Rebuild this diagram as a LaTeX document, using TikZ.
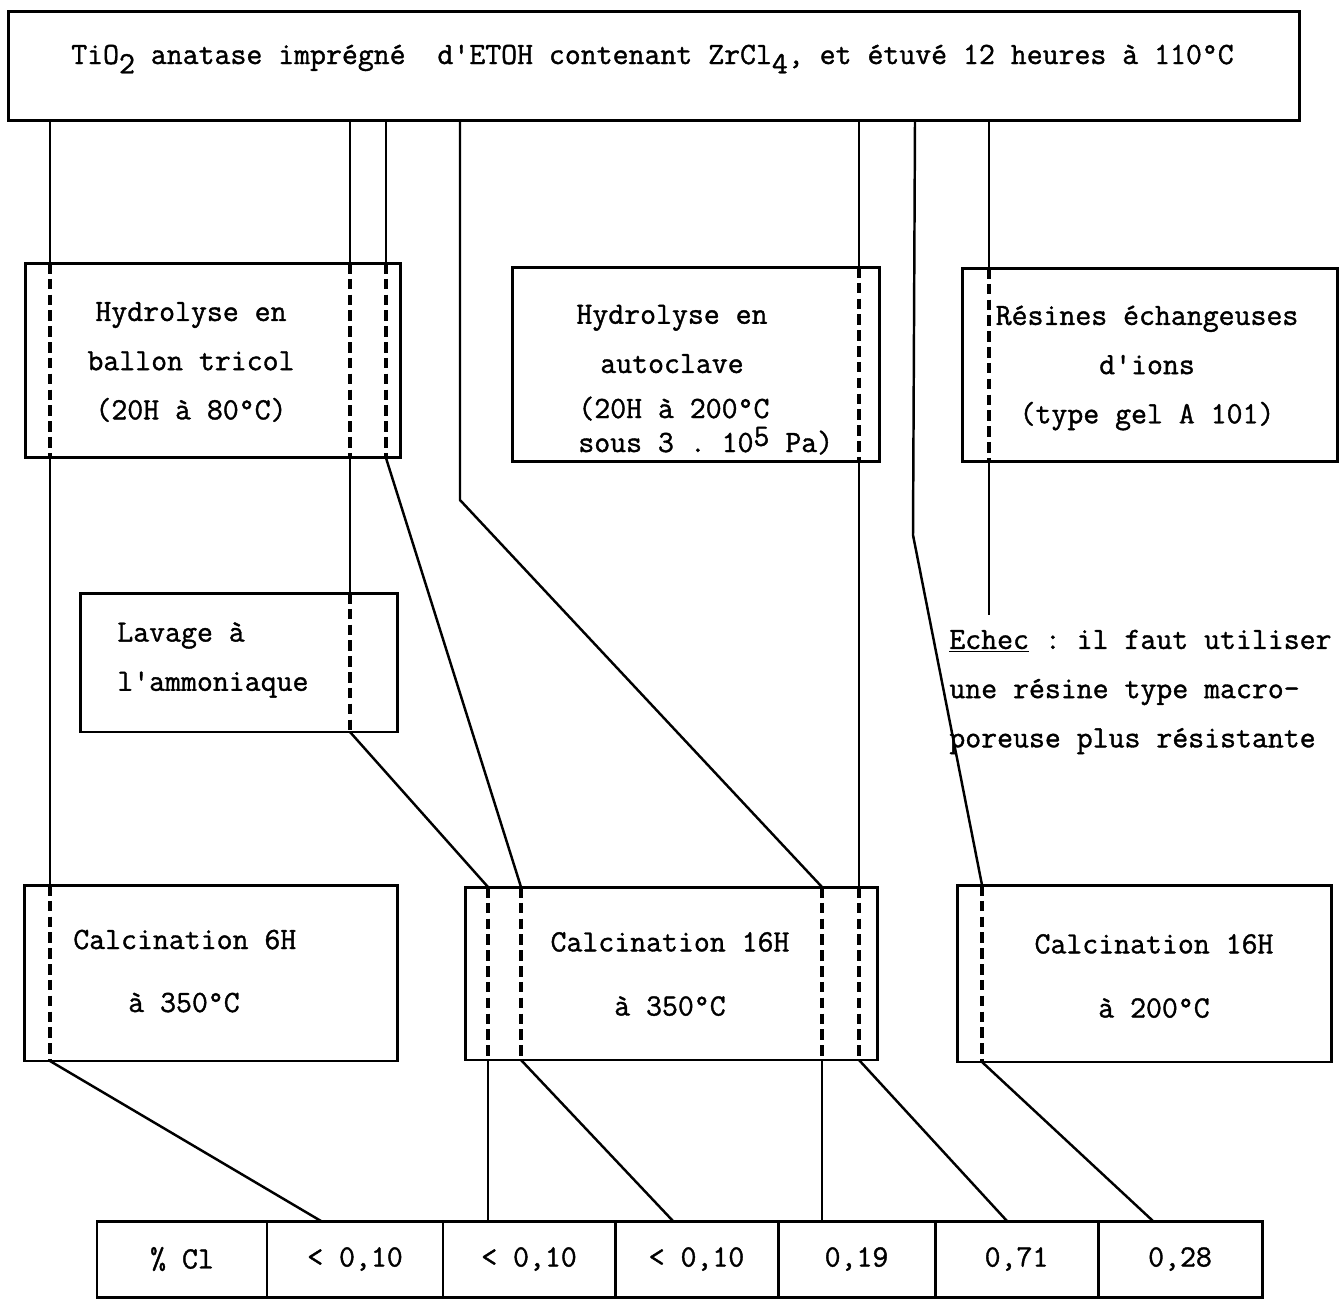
\documentclass[tikz,border=0pt]{standalone}
\usepackage{fontspec}
\setmonofont{Latin Modern Mono}[FakeBold=1.2]
\begin{document}
\begin{tikzpicture}[x=0.02cm, y=-0.02cm,
    box/.style={draw, line width=1.7pt, inner sep=0pt, outer sep=0pt},
    txt/.style={font=\ttfamily\fontsize{17.6}{28}\selectfont, inner sep=0pt, align=center},
    wire/.style={line width=1.4pt},
    hidden/.style={line width=1.8pt, dash pattern=on 6pt off 3pt}]
    \useasboundingbox (0,0) rectangle (1342,1299);

    % Starting material
    \node[box, minimum width=25.84cm, minimum height=2.18cm] (top) at (654,66) {};
    \node[txt, anchor=base] at (652.5,64) {TiO\raisebox{-0.3em}{2} anatase imprégné\ \ d'ETOH contenant ZrCl\raisebox{-0.3em}{4}, et étuvé 12 heures à 110°C};

    % Hydrolysis and exchange steps
    \node[box, minimum width=7.52cm, minimum height=3.9cm] (hyd) at (213,360.5) {};
    \node[txt] at (191,362) {Hydrolyse en\\ballon tricol\\(20H à 80°C)};

    \node[box, minimum width=7.36cm, minimum height=3.9cm] (auto) at (696,364.5) {};
    \node[txt] at (672,339) {Hydrolyse en\\autoclave};
    \node[txt, anchor=base west] at (578,418) {(20H à 200°C};
    \node[txt, anchor=base west] at (578,452) {sous 3 . 10\raisebox{0.2em}{5} Pa)};

    \node[box, minimum width=7.52cm, minimum height=3.88cm] (resin) at (1150,365) {};
    \node[txt] at (1147,368) {Résines échangeuses\\d'ions\\(type gel A 101)};

    % Washing
    \node[box, minimum width=6.36cm, minimum height=2.78cm] (lav) at (239,662.5) {};
    \node[txt, align=left, anchor=west] at (117,660) {Lavage à\\l'ammoniaque};

    \node[txt, align=left, anchor=west] (echec) at (949,692) {\underline{Echec} : il faut utiliser\\une résine type macro-\\poreuse plus résistante};

    % Calcination steps
    \node[box, minimum width=7.48cm, minimum height=3.52cm] (c6) at (211,973) {};
    \node[txt, anchor=base west] at (73,949) {Calcination 6H};
    \node[txt, anchor=base] at (184,1012) {à 350°C};

    \node[box, minimum width=8.26cm, minimum height=3.46cm] (c16) at (671.5,973.5) {};
    \node[txt] at (670,974) {Calcination 16H\\[8.5pt]à 350°C};

    \node[box, minimum width=7.5cm, minimum height=3.54cm] (c200) at (1144.5,973.5) {};
    \node[txt] at (1154,976) {Calcination 16H\\[8.5pt]à 200°C};

    % Chlorine table
    \foreach \i/\xa/\xb/\val in {1/97/267/{\% Cl}, 2/267/443/{< 0,10}, 3/443/615/{< 0,10}, 4/615/778/{< 0,10}, 5/778/935/{0,19}, 6/935/1098/{0,71}, 7/1098/1262/{0,28}} {
        \node[box, txt, minimum width={(\xb-\xa)*0.02cm}, minimum height=1.52cm] (t\i) at ({(\xa+\xb)/2},1259) {\val};
    }

    % Lanes
    \coordinate (l1) at (50,0);
    \coordinate (l2) at (350,0);
    \coordinate (l3) at (386,0);
    \coordinate (l4) at (460,0);
    \coordinate (l5) at (859,0);
    \coordinate (l6) at (915,0);
    \coordinate (l7) at (989,0);
    \coordinate (m1) at (488,0);
    \coordinate (m2) at (521,0);
    \coordinate (m3) at (822,0);
    \coordinate (m5) at (982,0);
    \coordinate (e1) at (321,0);
    \coordinate (e2) at (673,0);
    \coordinate (e3) at (1007,0);
    \coordinate (e4) at (1153,0);
    \coordinate (b4) at (460,500);
    \coordinate (b6) at (913,535);
    \coordinate (f7) at (989,615);

    % Hidden parts inside boxes
    \foreach \b/\l in {hyd/l1, hyd/l2, hyd/l3, lav/l2, c6/l1, auto/l5, resin/l7, c16/m1, c16/m2, c16/m3, c16/l5, c200/m5}
        \draw[hidden] (\b.north -| \l) -- (\b.south -| \l);

    % Lane 1
    \draw[wire] (top.south -| l1) -- (hyd.north -| l1);
    \draw[wire] (hyd.south -| l1) -- (c6.north -| l1);
    \draw[wire] (c6.south -| l1) -- (t2.north -| e1);
    % Lane 2
    \draw[wire] (top.south -| l2) -- (hyd.north -| l2);
    \draw[wire] (hyd.south -| l2) -- (lav.north -| l2);
    \draw[wire] (lav.south -| l2) -- (c16.north -| m1);
    \draw[wire] (c16.south -| m1) -- (t3.north -| m1);
    % Lane 3
    \draw[wire] (top.south -| l3) -- (hyd.north -| l3);
    \draw[wire] (hyd.south -| l3) -- (c16.north -| m2);
    \draw[wire] (c16.south -| m2) -- (t4.north -| e2);
    % Lane 4
    \draw[wire] (top.south -| l4) -- (b4) -- (c16.north -| m3);
    \draw[wire] (c16.south -| m3) -- (t5.north -| m3);
    % Lane 5
    \draw[wire] (top.south -| l5) -- (auto.north -| l5);
    \draw[wire] (auto.south -| l5) -- (c16.north -| l5);
    \draw[wire] (c16.south -| l5) -- (t6.north -| e3);
    % Lane 6
    \draw[wire] (top.south -| l6) -- (b6) -- (c200.north -| m5);
    \draw[wire] (c200.south -| m5) -- (t7.north -| e4);
    % Lane 7
    \draw[wire] (top.south -| l7) -- (resin.north -| l7);
    \draw[wire] (resin.south -| l7) -- (f7);

\end{tikzpicture}
\end{document}
